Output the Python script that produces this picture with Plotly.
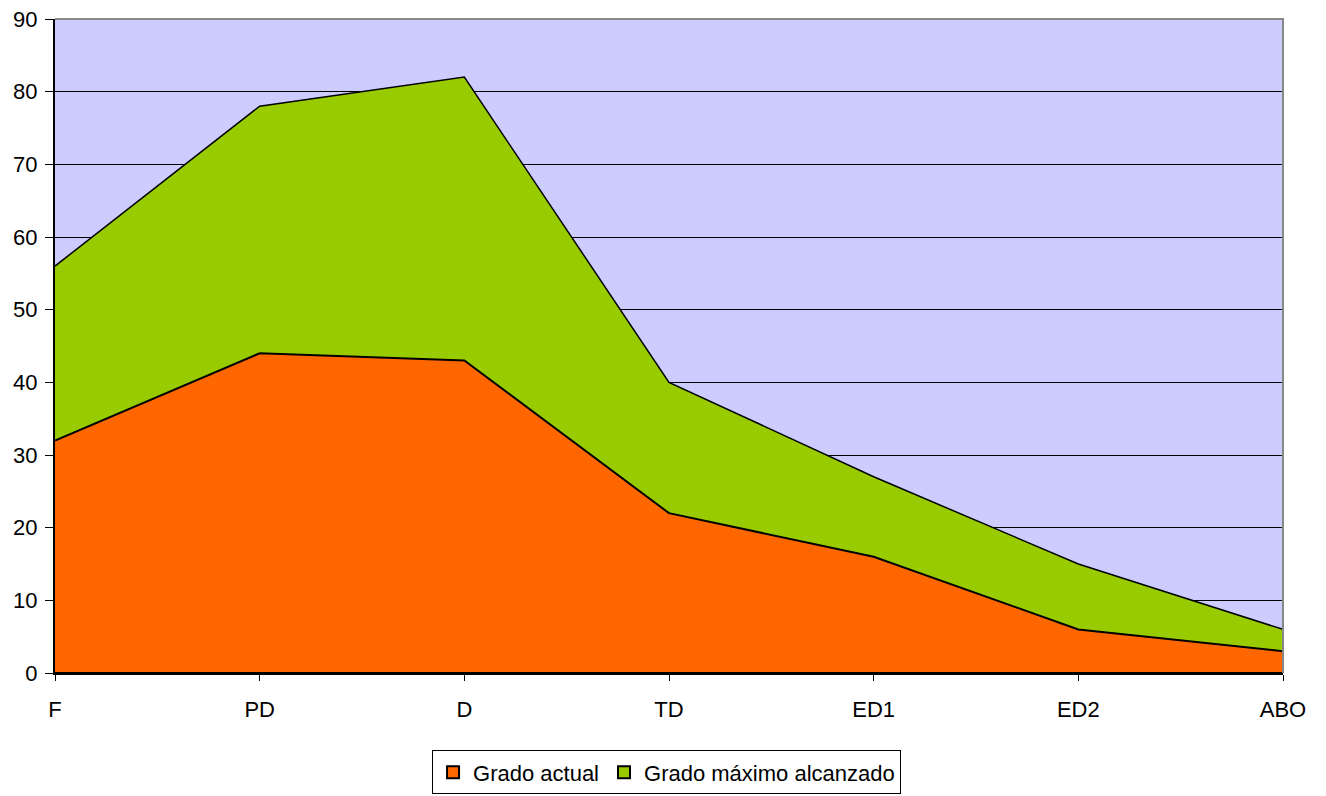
import plotly.graph_objects as go

categories = ["F", "PD", "D", "TD", "ED1", "ED2", "ABO"]
grado_actual = [32, 44, 43, 22, 16, 6, 3]
grado_maximo = [56, 78, 82, 40, 27, 15, 6]
y_ticks = [0, 10, 20, 30, 40, 50, 60, 70, 80, 90]

FONT = "Liberation Sans, Arial, sans-serif"
ORANGE = "#FF6600"
GREEN = "#99CC00"

idx = list(range(len(categories)))
closed_x = idx + [idx[-1], idx[0]]

fig = go.Figure()

fig.add_trace(go.Scatter(
    x=closed_x, y=grado_maximo + [0, 0], fill="toself", fillcolor=GREEN,
    mode="lines", line=dict(color="black", width=1.5), showlegend=False,
    hoverinfo="skip"))
fig.add_trace(go.Scatter(
    x=closed_x, y=grado_actual + [0, 0], fill="toself", fillcolor=ORANGE,
    mode="lines", line=dict(color="black", width=2), showlegend=False,
    hoverinfo="skip"))

# legend entries
fig.add_trace(go.Bar(x=[None], y=[None], name="Grado actual",
                     marker=dict(color=ORANGE, line=dict(color="black", width=2))))
fig.add_trace(go.Bar(x=[None], y=[None], name="Grado máximo alcanzado",
                     marker=dict(color=GREEN, line=dict(color="black", width=2))))

fig.update_layout(
    width=1318, height=788,
    margin=dict(l=47, r=43, t=11, b=123, autoexpand=False),
    paper_bgcolor="white", plot_bgcolor="#CCCCFF",
    font=dict(family=FONT, size=22, color="black"),
    showlegend=True,
    legend=dict(orientation="h", x=0.498, xanchor="center", y=-0.152, yanchor="middle",
                bordercolor="black", borderwidth=1, bgcolor="white",
                font=dict(size=22), itemwidth=30, tracegroupgap=0),
    xaxis=dict(range=[0, 6], tickmode="array", tickvals=idx, ticktext=categories,
               showgrid=False, zeroline=False, showline=True, linecolor="black",
               linewidth=2, ticks="outside", ticklen=6, tickcolor="black",
               tickfont=dict(size=22), automargin=False, ticklabeloverflow="allow",
               ticklabelstandoff=10),
    yaxis=dict(range=[0, 90], tickmode="array", tickvals=y_ticks,
               showgrid=True, gridcolor="black", gridwidth=1, zeroline=False,
               showline=True, linecolor="black", linewidth=2, ticks="outside",
               ticklen=8, tickcolor="black", tickfont=dict(size=22),
               automargin=False, ticklabeloverflow="allow", ticklabelstandoff=3),
    shapes=[dict(type="path", xref="paper", yref="paper",
                 path="M 0,1 L 1,1 L 1,0", line=dict(color="#888888", width=2),
                 layer="above")],
)

fig.write_html("out.html")
